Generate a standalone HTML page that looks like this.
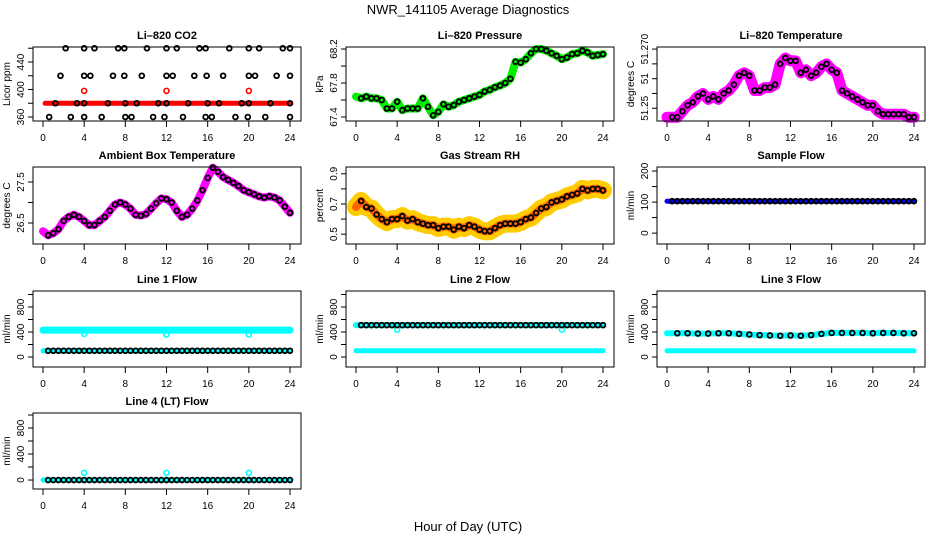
<!DOCTYPE html>
<html><head><meta charset="utf-8"><style>
html,body{margin:0;padding:0;background:#fff;}
svg{display:block;font-family:"Liberation Sans",sans-serif;}
</style></head><body>
<svg id="c" width="936" height="540" xmlns="http://www.w3.org/2000/svg">
<text x="468" y="14" font-size="13" text-anchor="middle">NWR_141105  Average Diagnostics</text>
<text x="468" y="531" font-size="13" text-anchor="middle">Hour of Day (UTC)</text>
</svg>
<script>
const hours = [0,0.5,1,1.5,2,2.5,3,3.5,4,4.5,5,5.5,6,6.5,7,7.5,8,8.5,9,9.5,10,10.5,11,11.5,12,12.5,13,13.5,14,14.5,15,15.5,16,16.5,17,17.5,18,18.5,19,19.5,20,20.5,21,21.5,22,22.5,23,23.5,24];
const hourly = [0,1,2,3,4,5,6,7,8,9,10,11,12,13,14,15,16,17,18,19,20,21,22,23,24];
const xTicks = [0,4,8,12,16,20,24];
// CO2
const co2Band = 380;
const co2Red = [[4,398],[12,398],[20,398]];
const co2Black460 = [2.2,4,5,7.3,7.9,10.1,12,13,15.2,15.8,18.1,20,21,23.3,24];
const co2Black420 = [1.7,4,4.6,6.8,7.9,9.6,12,12.6,14.7,15.9,17.5,20,20.6,22.7,24];
const co2Black380 = [1.2,3.3,4,6.3,8,9.1,11.2,12,14.1,16,17.1,19.3,20,22.1,24];
const co2Black360 = [0.6,2.7,4,5.7,8,8.6,10.7,11.8,13.6,15.8,16.4,18.7,19.9,21.6,24];
// pressure
const pressure = [67.64,67.62,67.64,67.62,67.62,67.6,67.5,67.5,67.58,67.48,67.5,67.5,67.5,67.62,67.52,67.42,67.46,67.55,67.52,67.54,67.58,67.6,67.62,67.64,67.66,67.7,67.72,67.75,67.77,67.8,67.85,68.05,68.04,68.08,68.15,68.2,68.2,68.18,68.15,68.12,68.08,68.1,68.14,68.15,68.18,68.16,68.12,68.13,68.14];
// li temp
const liTemp = [51.247,51.247,51.247,51.249,51.251,51.252,51.254,51.255,51.253,51.254,51.253,51.255,51.256,51.258,51.261,51.262,51.261,51.256,51.256,51.257,51.257,51.258,51.265,51.267,51.266,51.266,51.262,51.263,51.261,51.262,51.264,51.265,51.263,51.262,51.256,51.255,51.254,51.253,51.252,51.251,51.251,51.249,51.248,51.248,51.248,51.248,51.248,51.247,51.247];
// ambient
const ambient = [26.3,26.2,26.25,26.35,26.55,26.65,26.7,26.65,26.55,26.45,26.45,26.55,26.65,26.8,26.95,27.0,26.95,26.85,26.7,26.68,26.72,26.85,26.98,27.1,27.08,27.0,26.8,26.65,26.7,26.85,27.05,27.3,27.6,27.85,27.75,27.62,27.55,27.48,27.4,27.3,27.25,27.2,27.15,27.12,27.15,27.12,27.05,26.9,26.75];
// RH
const rh = [0.68,0.72,0.68,0.67,0.63,0.6,0.58,0.6,0.6,0.62,0.59,0.6,0.58,0.57,0.56,0.56,0.54,0.55,0.55,0.53,0.55,0.54,0.56,0.55,0.53,0.52,0.52,0.54,0.56,0.57,0.57,0.57,0.58,0.6,0.61,0.64,0.67,0.68,0.71,0.72,0.73,0.75,0.76,0.77,0.8,0.79,0.8,0.8,0.79];
const sampleFlow = 103;
const line1Upper = 430, line1Lower = 100;
const line1Out = [[4,370],[12,360],[20,360]];
const line2Upper = 510, line2Lower = 100;
const line2Out = [[4,440],[20,440]];
const line3Upper = [380,380,380,375,375,380,380,370,360,350,345,340,345,340,350,370,385,385,385,385,380,385,385,380,380];
const line3Lower = 100;
const line4Val = 0;
const line4Out = [[4,110],[12,110],[20,110]];

const NS="http://www.w3.org/2000/svg";
const svg=document.getElementById('c');
function el(tag,attrs,parent){const e=document.createElementNS(NS,tag);for(const k in attrs)e.setAttribute(k,attrs[k]);(parent||svg).appendChild(e);return e;}

const cols=[33,346,657], colW=268;
const rows=[[47,121],[167,244],[291,367],[413,489]];

function panel(c,r,title,ylabel,ymin,ymax,ticks,labels,name){
  const L=cols[c],R=L+colW,T=rows[r][0],B=rows[r][1];
  const g=el('g',{});
  
  
  const x=v=>L+10+(v)*(247/24);
  const y=v=>B-(v-ymin)/(ymax-ymin)*(B-T);
  const t=el('text',{x:(L+R)/2,y:T-8,'font-size':11,'font-weight':'bold','text-anchor':'middle'},g);t.textContent=title;
  
  
  const yl=el('text',{x:0,y:0,'font-size':10,'text-anchor':'middle',transform:`translate(${L-23},${(T+B)/2}) rotate(-90)`},g);yl.textContent=ylabel;
  
  
  ticks.forEach((tv,i)=>{
    const yy=y(tv);
    el('line',{x1:L-5,x2:L,y1:yy,y2:yy,stroke:'#000'},g);
    if(labels[i]){const tl=el('text',{x:0,y:0,'font-size':10,'text-anchor':'middle',transform:`translate(${L-9},${yy}) rotate(-90)`},g);tl.textContent=labels[i];
      
      }
  });
  el('line',{x1:L,x2:L,y1:y(ticks[0]),y2:y(ticks[ticks.length-1]),stroke:'#000'},g);
  xTicks.forEach(tv=>{
    const xx=x(tv);
    el('line',{x1:xx,x2:xx,y1:B,y2:B+6,stroke:'#000'},g);
    const tl=el('text',{x:xx,y:B+20,'font-size':10,'text-anchor':'middle'},g);tl.textContent=tv;
    
    
  });
  el('line',{x1:x(0),x2:x(24),y1:B,y2:B,stroke:'#000'},g);
  const mark=el('g',{},g);
  el('rect',{x:L,y:T,width:colW,height:B-T,fill:'none',stroke:'#000'},g);
  const clip='clip'+c+r;
  const cp=el('clipPath',{id:clip},g);el('rect',{x:L,y:T-6,width:colW,height:B-T+12},cp);
  mark.setAttribute('clip-path',`url(#${clip})`);
  return {x,y,g:mark};
}
function band(p,xs,vals,color,w,name){
  const d=xs.map((h,i)=>(i?'L':'M')+p.x(h).toFixed(1)+' '+p.y(Array.isArray(vals)?vals[i]:vals).toFixed(1)).join(' ');
  const e=el('path',{d,stroke:color,'stroke-width':w,fill:'none','stroke-linejoin':'round','stroke-linecap':'round'},p.g);
  
  
}
function pts(p,xs,vals,color,name,r){
  xs.forEach((h,i)=>{const v=Array.isArray(vals)?vals[i]:vals;
    const e=el('circle',{cx:p.x(h),cy:p.y(v),r:r||2.4,fill:'none',stroke:color,'stroke-width':1.8},p.g);
    
    });
}
function pairs(p,arr,color,name){arr.forEach(a=>{const e=el('circle',{cx:p.x(a[0]),cy:p.y(a[1]),r:2.5,fill:'none',stroke:color,'stroke-width':1.6},p.g);
  
  });}

// CO2
let p=panel(0,0,'Li\u2013820 CO2','Licor ppm',354.2,461.8,[360,380,400,420,440,460],['360','','400','','440',''],'co2-panel');
band(p,[0.2,24],[co2Band,co2Band],'#f00',5,'co2-band');
pairs(p,co2Red,'#f00','co2-red-point');
pts(p,co2Black460,460,'#000','co2-point');pts(p,co2Black420,420,'#000','co2-point');
pts(p,co2Black380,380,'#000','co2-point');pts(p,co2Black360,360,'#000','co2-point');
// Pressure
p=panel(1,0,'Li\u2013820 Pressure','kPa',67.353,68.224,[67.4,67.6,67.8,68.0,68.2],['67.4','','67.8','','68.2'],'pressure-panel');
band(p,hours,pressure,'#0e0',8,'pressure-band');
pts(p,hours.slice(1),pressure.slice(1),'#000','pressure-point');
// Li temp
p=panel(2,0,'Li\u2013820 Temperature','degrees C',51.2457,51.2707,[51.25,51.255,51.26,51.265,51.27],['51.25','','51','','51.270'],'li-temp-panel');
band(p,hours,liTemp,'#f0f',11,'li-temp-band');
pts(p,hours.slice(1),liTemp.slice(1),'#000','li-temp-point');
// Ambient
p=panel(0,1,'Ambient Box Temperature','degrees C',25.988,27.866,[26.5,27.0,27.5],['26.5','','27.5'],'ambient-panel');
band(p,hours,ambient,'#f0f',8,'ambient-band');
pts(p,hours.slice(1),ambient.slice(1),'#000','ambient-point');
// RH
p=panel(1,1,'Gas Stream RH','percent',0.435,0.945,[0.5,0.6,0.7,0.8,0.9],['0.5','','0.7','','0.9'],'rh-panel');
band(p,hours,rh,'#fc0',18,'rh-band-outer');
band(p,hours,rh,'#f60',8,'rh-band-inner');
pts(p,hours.slice(1),rh.slice(1),'#000','rh-point');
// Sample flow
p=panel(2,1,'Sample Flow','ml/min',-35,213,[0,50,100,150,200],['0','','100','','200'],'sample-flow-panel');
band(p,[0,24],[sampleFlow,sampleFlow],'#00f',5,'sample-flow-band');
pts(p,hourly.slice(1).concat(hours.filter(h=>h%1)),sampleFlow,'#000','sample-flow-point');
const half=hours.filter(h=>h>0);
// Line 1
p=panel(0,2,'Line 1 Flow','ml/min',-160,1056,[0,200,400,600,800,1000],['0','','400','','800',''],'line1-panel');
band(p,[0,24],[line1Upper,line1Upper],'#0ff',7,'line1-upper-band');
band(p,[0,24],[line1Lower,line1Lower],'#0ff',5,'line1-lower-band');
pairs(p,line1Out,'#0ff','line1-outlier');
pts(p,half,line1Lower,'#000','line1-point');
// Line 2
p=panel(1,2,'Line 2 Flow','ml/min',-160,1056,[0,200,400,600,800,1000],['0','','400','','800',''],'line2-panel');
band(p,[0,24],[line2Upper,line2Upper],'#0ff',6,'line2-upper-band');
band(p,[0,24],[line2Lower,line2Lower],'#0ff',5,'line2-lower-band');
pairs(p,line2Out,'#0ff','line2-outlier');
pts(p,half,line2Upper,'#000','line2-point');
// Line 3
p=panel(2,2,'Line 3 Flow','ml/min',-160,1056,[0,200,400,600,800,1000],['0','','400','','800',''],'line3-panel');
band(p,hourly,line3Upper,'#0ff',6,'line3-upper-band');
band(p,[0,24],[line3Lower,line3Lower],'#0ff',5,'line3-lower-band');
pts(p,hourly.slice(1),line3Upper.slice(1),'#000','line3-point');
// Line 4
p=panel(0,3,'Line 4 (LT) Flow','ml/min',-138,1031,[0,200,400,600,800,1000],['0','','400','','800',''],'line4-panel');
band(p,[0,24],[line4Val,line4Val],'#0ff',5,'line4-band');
pairs(p,line4Out,'#0ff','line4-outlier');
pts(p,half,line4Val,'#000','line4-point');
</script>
</body></html>
